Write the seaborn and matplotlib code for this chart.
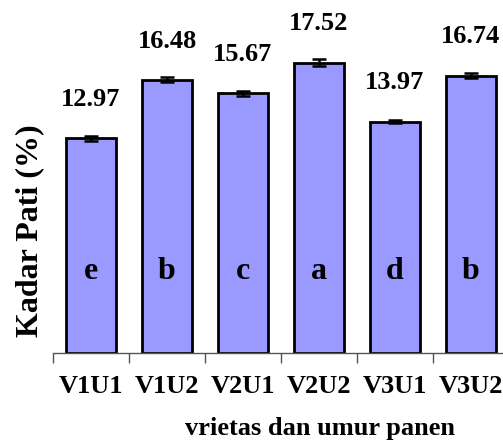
import matplotlib
matplotlib.use("Agg")
import matplotlib.pyplot as plt
import seaborn as sns
import pandas as pd
import numpy as np

perlakuan = ["V1U1", "V1U2", "V2U1", "V2U2", "V3U1", "V3U2"]
kadar_pati = [12.97, 16.48, 15.67, 17.52, 13.97, 16.74]
galat = [0.15, 0.15, 0.15, 0.20, 0.10, 0.15]
notasi = ["e", "b", "c", "a", "d", "b"]

sns.set_style("white")
plt.rcParams["font.family"] = ["Liberation Serif", "DejaVu Serif"]
plt.rcParams["text.color"] = "black"
plt.rcParams["xtick.color"] = "black"

df = pd.DataFrame({"perlakuan": perlakuan, "kadar": kadar_pati})

W, H = 503, 440
fig = plt.figure(figsize=(W / 100, H / 100), dpi=100)
# axes in pixel terms: left 53, bottom 87, width 456, height 353
ax = fig.add_axes([53 / W, 87 / H, 456 / W, 353 / H])

sns.barplot(data=df, x="perlakuan", y="kadar", color="#9999FF", saturation=1,
            edgecolor="black", linewidth=2.0, width=0.67, ax=ax, errorbar=None)
ax.errorbar(np.arange(len(perlakuan)), kadar_pati, yerr=galat, fmt="none",
            ecolor="black", elinewidth=1.8, capsize=5, capthick=1.8)

for i, (v, n) in enumerate(zip(kadar_pati, notasi)):
    ax.text(i, v + 1.65, f"{v:.2f}", ha="center", va="bottom",
            fontsize=19, fontweight="bold", color="black")
    ax.text(i, 4.9, n, ha="center", va="center", fontsize=23,
            fontweight="bold", color="black")

ax.set_xlim(-0.5, 5.5)
ax.set_ylim(0, 353 / 16.57)
for s in ["left", "right", "top"]:
    ax.spines[s].set_visible(False)
ax.spines["bottom"].set_color("#555555")
ax.spines["bottom"].set_linewidth(1.0)
ax.set_yticks([])
ax.set_xticks(range(len(perlakuan)))
ax.set_xticklabels(perlakuan, fontsize=19, fontweight="bold", color="black")
ax.tick_params(axis="x", which="major", bottom=False, length=0, pad=16)
ax.set_xticks(np.arange(-0.5, 6.0, 1.0), minor=True)
ax.tick_params(axis="x", which="minor", bottom=True, length=7, width=1.0,
               color="#555555", direction="out")
ax.set_xlabel("")
ax.set_ylabel("")

fig.text(320 / W, 1 - 428 / H, "vrietas dan umur panen", ha="center",
         va="center", fontsize=19, fontweight="bold", color="black")
fig.text(30 / W, 1 - 231 / H, "Kadar Pati (%)", ha="center", va="center",
         rotation=90, fontsize=23, fontweight="bold", color="black")

fig.savefig("out.png", dpi=100)
